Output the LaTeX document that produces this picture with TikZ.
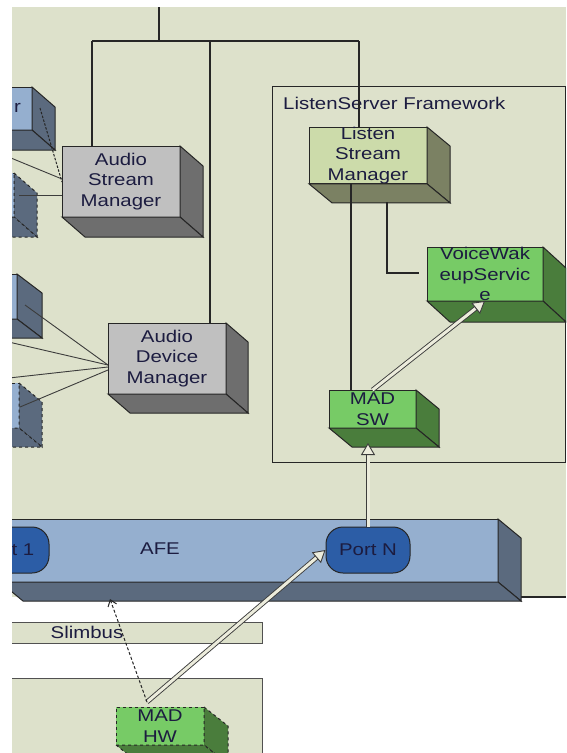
\documentclass[tikz,border=0pt]{standalone}
\usepackage{fontspec}
\setmainfont{Liberation Sans}[FakeStretch=1.2]
\usetikzlibrary{calc,arrows.meta}
\definecolor{bg}{HTML}{DDE1CB}
\definecolor{edge}{HTML}{262626}
\definecolor{txt}{HTML}{1C1C40}
\definecolor{greyF}{HTML}{C0C0C0}
\definecolor{greyS}{HTML}{6E6E6E}
\definecolor{blueF}{HTML}{95AFCF}
\definecolor{blueS}{HTML}{5B6A7E}
\definecolor{lsmF}{HTML}{CCDBAA}
\definecolor{lsmS}{HTML}{7B8163}
\definecolor{grnF}{HTML}{77CB66}
\definecolor{grnS}{HTML}{4A7D3C}
\definecolor{portF}{HTML}{2C5DA6}
\definecolor{dfill}{HTML}{ECECDC}
\newcommand\lbl{\fontsize{17}{20.5}\selectfont}
\newcommand\sidefaces[4]{%
  \draw[#4] (#1.north east) -- ++(#2,#3) -- ($(#1.south east)+(#2,#3)$) -- (#1.south east) -- cycle;
  \draw[#4] (#1.south west) -- ($(#1.south west)+(#2,#3)$) -- ($(#1.south east)+(#2,#3)$) -- (#1.south east) -- cycle;
}
\begin{document}
\begin{tikzpicture}[x=1pt,y=-1pt,
  face/.style={draw=edge, line width=1pt, anchor=north west, inner sep=0pt, outer sep=0pt, align=center, text=txt, font=\lbl},
  wire/.style={draw=edge, line width=1.1pt},
  dbl/.style={draw=edge!90, line width=0.9pt, double=dfill, double distance=3pt, -{Triangle[length=12pt, width=14pt, fill=dfill]}},
  port/.style={draw=edge, line width=1pt, fill=portF, rounded corners=17pt, minimum width=84pt, minimum height=46pt, inner sep=0pt, text=txt, font=\lbl},
  plain/.style={draw=edge!80, line width=1pt, fill=bg}
]
\useasboundingbox (0,0) rectangle (566,753);
\begin{scope}
\clip (12,0) rectangle (566,753);
% background
\fill[bg] (12,7) rectangle (566,597);
\coordinate (bgl) at (498,597);
\coordinate (bgr) at (566,597);
\draw[wire] (bgl) -- (bgr);

% top wiring
\coordinate (top) at (159,7);
\coordinate (j1) at (159,41);
\coordinate (jL) at (92,41);
\coordinate (jM) at (210,41);
\coordinate (jR) at (359,41);

% ListenServer Framework frame
\node[draw=edge, line width=1pt, anchor=north west, minimum width=293pt, minimum height=376pt, inner sep=0pt] (lsf) at (272,86) {};
\node[anchor=west, text=txt, font=\lbl, inner sep=0pt] (lsflbl) at (283,103) {ListenServer Framework};

% left partial boxes
\node[face, fill=blueF, minimum width=102pt, minimum height=43pt] (ba) at (-70,87) {};
\sidefaces{ba}{23}{20}{fill=blueS, draw=edge, line width=1pt}
\node[anchor=east, text=txt, font=\lbl, inner sep=0pt] (balbl) at (21,108) {r};
\node[face, fill=blueF, dashed, minimum width=84pt, minimum height=44pt] (bb) at (-70,173) {};
\sidefaces{bb}{23}{20}{fill=blueS, draw=edge, line width=1pt, dashed}
\node[face, fill=blueF, minimum width=87pt, minimum height=45pt] (bc) at (-70,274) {};
\sidefaces{bc}{25}{19}{fill=blueS, draw=edge, line width=1pt}
\node[face, fill=blueF, dashed, minimum width=89pt, minimum height=45pt] (bd) at (-70,383) {};
\sidefaces{bd}{23}{19}{fill=blueS, draw=edge, line width=1pt, dashed}

% Audio Stream Manager
\node[face, fill=greyF, minimum width=118pt, minimum height=71pt] (asm) at (62,146) {Audio\\Stream\\Manager};
\sidefaces{asm}{23}{20}{fill=greyS, draw=edge, line width=1pt}
% Audio Device Manager
\node[face, fill=greyF, minimum width=118pt, minimum height=71pt] (adm) at (108,323) {Audio\\Device\\Manager};
\sidefaces{adm}{22}{19}{fill=greyS, draw=edge, line width=1pt}
% Listen Stream Manager
\node[face, fill=lsmF, minimum width=118pt, minimum height=56pt] (lsm) at (309,127) {Listen\\Stream\\Manager};
\sidefaces{lsm}{23}{19}{fill=lsmS, draw=edge, line width=1pt}
% VoiceWakeupService
\node[face, fill=grnF, minimum width=116pt, minimum height=54pt] (vws) at (427,247) {VoiceWak\\eupServic\\e};
\sidefaces{vws}{23}{21}{fill=grnS, draw=edge, line width=1pt}
% MAD SW
\node[face, fill=grnF, minimum width=87pt, minimum height=38pt] (madsw) at (329,390) {MAD\\SW};
\sidefaces{madsw}{23}{19}{fill=grnS, draw=edge, line width=1pt}

% wiring
\draw[wire] (top) -- (j1);
\draw[wire] (jL) -- (jR);
\draw[wire] (jL) -- (jL |- asm.north);
\draw[wire] (jM) -- (jM |- adm.north);
\draw[wire] (jR) -- (jR |- lsm.north);
\coordinate (c1) at (351,0);
\draw[wire] (lsm.south -| c1) -- (madsw.north -| c1);
\coordinate (c2) at (387,202);
\coordinate (c3) at (419,273);
\draw[wire] (c2) |- (c3);

% left connectors
\coordinate (la1) at (40,108);
\draw[draw=edge, line width=1pt, dash pattern=on 2.5pt off 1.5pt] (la1) -- ($(asm.north west)+(0,36)$);
\coordinate (la2) at (0,153.5);
\draw[draw=edge!90, line width=0.9pt] (la2) -- ($(asm.north west)+(0,33)$);
\coordinate (la3) at (19,195);
\draw[draw=edge!90, line width=0.9pt] (la3) -- (asm.west |- la3);
\coordinate (ld1) at (25,305);
\coordinate (ld2) at (0,340);
\coordinate (ld3) at (0,379);
\coordinate (ld4) at (20,407);
\draw[draw=edge!90, line width=0.9pt] (ld1) -- ($(adm.north west)+(0,42)$);
\draw[draw=edge!90, line width=0.9pt] (ld2) -- ($(adm.north west)+(0,42)$);
\draw[draw=edge!90, line width=0.9pt] (ld3) -- ($(adm.north west)+(0,44)$);
\draw[draw=edge!90, line width=0.9pt] (ld4) -- ($(adm.north west)+(0,47)$);

% AFE
\node[face, fill=blueF, minimum width=498pt, minimum height=63pt] (afe) at (0,519) {};
\sidefaces{afe}{23}{19}{fill=blueS, draw=edge, line width=1pt}
\node[text=txt, font=\lbl, inner sep=0pt] (afelbl) at (160,549) {AFE};
\node[port] (port1) at (7,550) {Port 1};
\node[port] (portn) at (368,550) {Port N};

% Slimbus and lower box
\node[plain, anchor=north west, minimum width=262pt, minimum height=21pt, inner sep=0pt] (slim) at (0,622) {};
\node[text=txt, font=\lbl, inner sep=0pt] (slimlbl) at (87,632) {Slimbus};
\node[plain, anchor=north west, minimum width=262pt, minimum height=100pt, inner sep=0pt] (lowbox) at (0,678) {};

% MAD HW
\node[face, fill=grnF, dashed, minimum width=88pt, minimum height=38pt] (madhw) at (116,707) {MAD\\HW};
\sidefaces{madhw}{24}{19}{fill=grnS, draw=edge, line width=1pt, dashed}

% arrows
\coordinate (hwtop) at (147,702);
\coordinate (afeb) at (110,599);
\coordinate (c4) at (0,443);
\draw[dbl] (madsw.north) -- (vws.south);
\draw[dbl] (portn.north) -- (portn.north |- c4);
\draw[dbl] (hwtop) -- (portn.west);
\draw[draw=edge, line width=1pt, dash pattern=on 3pt off 2pt, -{Straight Barb[length=6pt, width=9pt]}] (hwtop) -- (afeb);
\end{scope}
\end{tikzpicture}
\end{document}
